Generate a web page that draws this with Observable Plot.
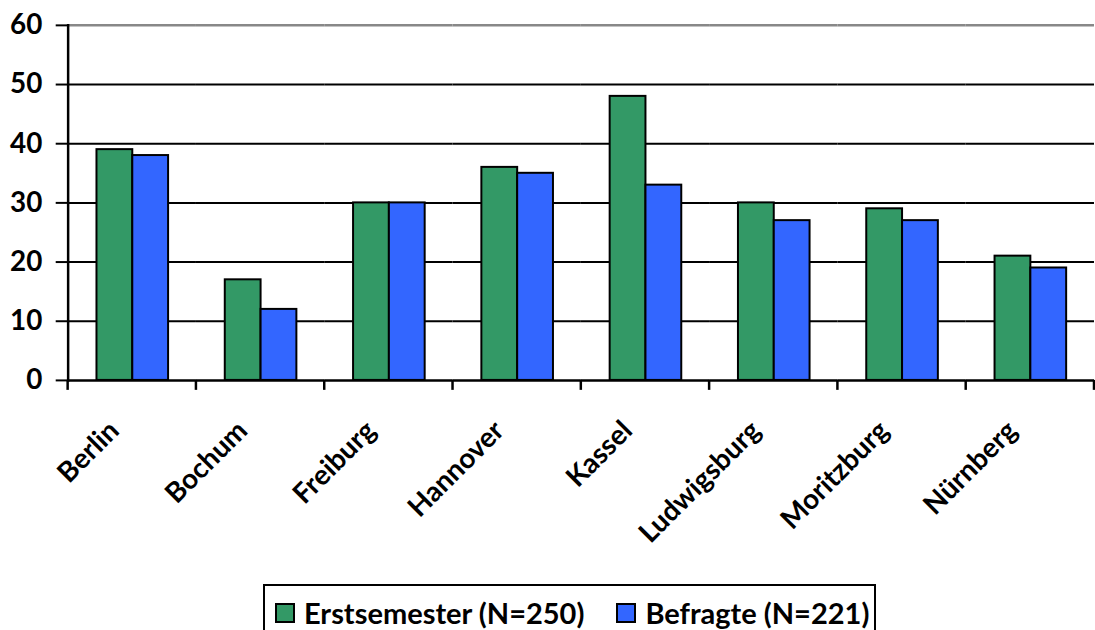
<!DOCTYPE html>
<html>
<head>
<meta charset="utf-8">
<script src="https://cdn.jsdelivr.net/npm/d3@7"></script>
<script src="https://cdn.jsdelivr.net/npm/@observablehq/plot@0.6"></script>
<style>
  html, body { margin: 0; padding: 0; background: #fff; overflow: hidden; }
  #wrap { position: relative; width: 1095px; height: 630px; overflow: hidden; }
  #chart { position: absolute; left: 0; top: 0; }
  #legend {
    position: absolute; left: 263px; top: 584px; width: 613px; height: 60px;
    border: 2px solid #000; box-sizing: border-box;
    font-family: Lato, sans-serif; font-weight: bold; font-size: 29px; color: #000;
    display: flex; align-items: flex-start; padding: 9px 0 0 10px; white-space: nowrap;
  }
  .item { display: flex; align-items: center; margin-right: 32px; }
  .sw { width: 16px; height: 16px; border: 2px solid #000; margin-right: 9px; box-sizing: content-box; }
</style>
</head>
<body>
<div id="wrap">
  <div id="chart"></div>
  <div id="legend"></div>
</div>
<script>
const categories = ["Berlin", "Bochum", "Freiburg", "Hannover", "Kassel", "Ludwigsburg", "Moritzburg", "Nürnberg"];
const series = ["Erstsemester (N=250)", "Befragte (N=221)"];
const erstsemester = [39, 17, 30, 36, 48, 30, 29, 21];
const befragte = [38, 12, 30, 35, 33, 27, 27, 19];
const yTicks = [0, 10, 20, 30, 40, 50, 60];
const colors = ["#339966", "#3366FF"];

const rows = [];
categories.forEach((c, i) => {
  rows.push({city: c, series: series[0], value: erstsemester[i]});
  rows.push({city: c, series: series[1], value: befragte[i]});
});

const H = 575;
const plot = Plot.plot({
  width: 1101,
  height: H,
  marginLeft: 67,
  marginRight: 0,
  marginTop: 25,
  marginBottom: H - 382,
  style: {fontFamily: "Lato, sans-serif", color: "#000", background: "#fff", overflow: "visible"},
  fx: {domain: categories, padding: 0, label: null},
  x: {domain: series, paddingInner: 0, paddingOuter: 0.745, axis: null},
  y: {domain: [0, 60], label: null},
  color: {domain: series, range: colors},
  marks: [
    Plot.ruleY(yTicks.filter(d => d > 0 && d < 60), {stroke: "#000", strokeWidth: 2}),
    Plot.ruleY([60], {stroke: "#888", strokeWidth: 2.5}),
    Plot.barY(rows, {fx: "city", x: "series", y: "value", fill: "series", stroke: "#000", strokeWidth: 2}),
    Plot.ruleY([0], {stroke: "#000", strokeWidth: 2.5}),
    Plot.frame({anchor: "left", facetAnchor: "left", stroke: "#000", strokeWidth: 2.5}),
    Plot.axisY({ticks: yTicks, tickSize: 12, tickPadding: 14, fontSize: 28, fontWeight: "bold", label: null, strokeWidth: 2}),
    Plot.axisFx({anchor: "bottom", tickRotate: -45, tickSize: 0, tickPadding: 46, dx: -18, fontSize: 28, fontWeight: "bold", label: null})
  ]
});
document.getElementById("chart").appendChild(plot);

// boundary tick marks between categories (Excel style), positioned with Plot's own scales
const fx = plot.scale("fx");
const y = plot.scale("y");
const y0 = y.apply(0);
const svg = d3.select(plot);
const edges = categories.map(c => fx.apply(c)).concat([fx.apply(categories[categories.length - 1]) + fx.bandwidth]);
svg.append("g").selectAll("line").data(edges).join("line")
  .attr("x1", d => d).attr("x2", d => d)
  .attr("y1", y0).attr("y2", y0 + 10)
  .attr("stroke", "#000").attr("stroke-width", 2.5);

// legend
const legend = d3.select("#legend");
series.forEach((s, i) => {
  const it = legend.append("div").attr("class", "item");
  it.append("div").attr("class", "sw").style("background", colors[i]);
  it.append("span").text(s);
});
</script>
</body>
</html>
